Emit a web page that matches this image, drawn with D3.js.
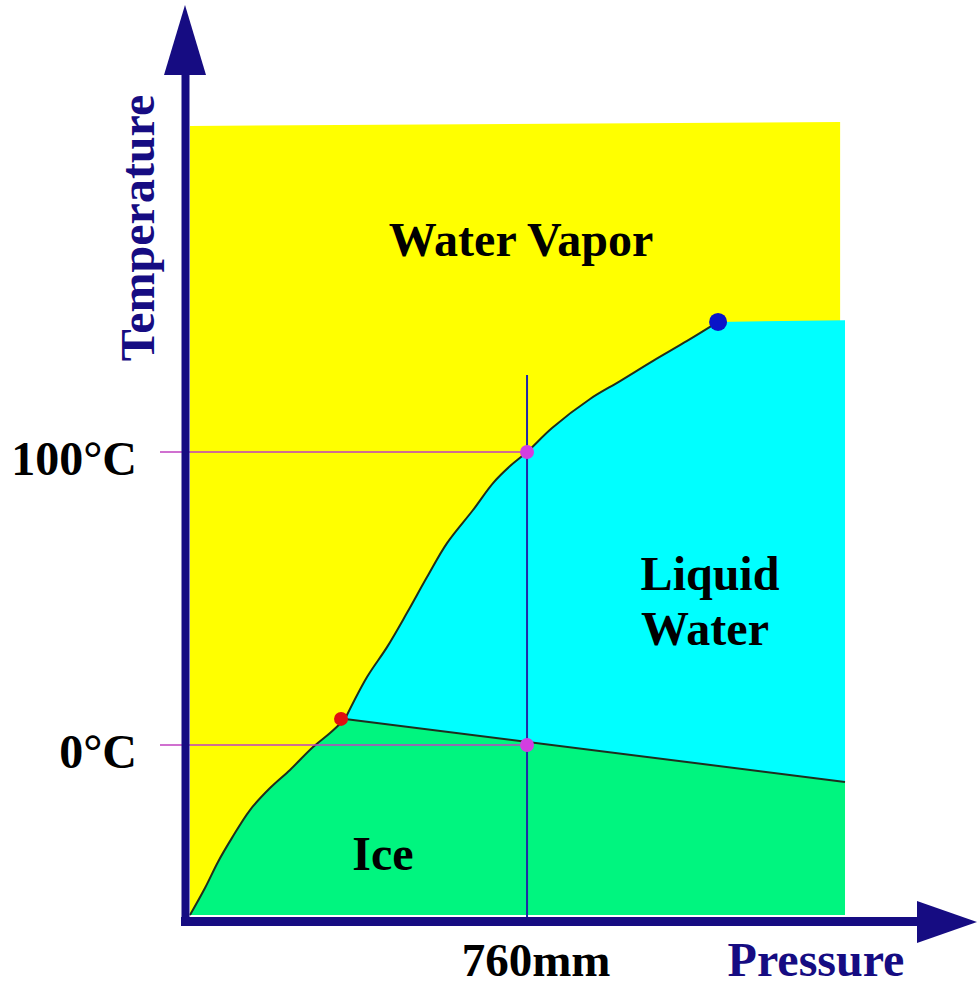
<!DOCTYPE html>
<html>
<head>
<meta charset="utf-8">
<script src="https://cdn.jsdelivr.net/npm/d3@7"></script>
<style>
  html, body { margin: 0; padding: 0; background: #fff; }
  svg { display: block; }
  text { font-family: "Liberation Serif", "Times New Roman", serif; font-weight: bold; }
</style>
</head>
<body>
<div id="chart"></div>
<script>
// pressure in mm (schematic), temperature in °C (schematic)
const sublimationCurve = [
  [0, -58.0], [33.8, -48.8], [63.1, -39.9], [94.7, -31.7], [135.3, -22.2],
  [180.4, -14.7], [225.5, -8.5], [277.4, -0.7], [315.8, 4.1], [349.6, 8.9]
];
const vaporizationCurve = [
  [349.6, 8.9], [399.2, 23.2], [444.3, 33.4], [489.4, 45.1], [534.5, 57.3],
  [579.6, 68.9], [638.2, 80.2], [683.4, 89.4], [721.7, 95.2], [760, 100],
  [816.4, 108.2], [902.1, 118.1], [969.8, 124.2], [1044.2, 131.1],
  [1120.9, 137.9], [1190.8, 144.4]
];
const fusionLine = [[349.6, 8.9], [1477, -12.6]];
const triplePoint = [349.6, 8.9];
const criticalPoint = [1190.8, 144.4];
const boilingPoints = [[760, 100], [760, 0]];
const tempTicks = [{ t: 100, label: '100°C' }, { t: 0, label: '0°C' }];
const pressureTick = { p: 760, label: '760mm' };
const pMax = 1477, tMin = -58, tTop = 211.3, tTopRight = 212.6, tLiquidTop = 145;

const svg = d3.select('#chart').append('svg')
  .attr('width', 977)
  .attr('height', 987);

const x = d3.scaleLinear().domain([0, pMax]).range([190, 845]);
const y = d3.scaleLinear().domain([0, 100]).range([745, 452]);

const navy = '#160c82';
const line = d3.line().x(d => x(d[0])).y(d => y(d[1]));
const curve = d3.line().x(d => x(d[0])).y(d => y(d[1])).curve(d3.curveCatmullRom);
const lineTo = pts => pts.map(d => `L${x(d[0])},${y(d[1])}`).join('');

// phase regions
const vaporRegion = [[0, tMin], [0, tTop], [pMax - 11, tTopRight], [pMax - 11, tMin]];
svg.append('path').attr('d', line(vaporRegion) + 'Z').attr('fill', '#ffff00');

svg.append('path')
  .attr('d', curve(vaporizationCurve) +
    lineTo([[pMax, tLiquidTop], [pMax, fusionLine[1][1]]]) + 'Z')
  .attr('fill', '#00ffff');

svg.append('path')
  .attr('d', curve(sublimationCurve) + lineTo([fusionLine[1], [pMax, tMin]]) + 'Z')
  .attr('fill', '#00f57f');

// phase boundaries
svg.append('path')
  .attr('d', curve(sublimationCurve))
  .attr('fill', 'none').attr('stroke', '#1e2e1e').attr('stroke-width', 2);
svg.append('path')
  .attr('d', curve(vaporizationCurve))
  .attr('fill', 'none').attr('stroke', '#1e2e1e').attr('stroke-width', 2);
svg.append('path')
  .attr('d', line(fusionLine))
  .attr('fill', 'none').attr('stroke', '#1e2e1e').attr('stroke-width', 2);

// guide lines
tempTicks.forEach(d => {
  svg.append('line')
    .attr('x1', 160).attr('x2', x(pressureTick.p))
    .attr('y1', y(d.t)).attr('y2', y(d.t))
    .attr('stroke', '#c040c0')
    .attr('stroke-opacity', 0.75)
    .attr('stroke-width', 2);
  svg.append('text')
    .attr('x', 137)
    .attr('y', y(d.t) + 23)
    .attr('text-anchor', 'end')
    .attr('font-size', '48px')
    .attr('fill', '#000')
    .text(d.label);
});

svg.append('line')
  .attr('x1', x(pressureTick.p)).attr('x2', x(pressureTick.p))
  .attr('y1', 375).attr('y2', 918)
  .attr('stroke', '#2028a8')
  .attr('stroke-width', 2);

svg.append('text')
  .attr('x', x(pressureTick.p) + 9)
  .attr('y', 976)
  .attr('text-anchor', 'middle')
  .attr('font-size', '47px')
  .attr('fill', '#000')
  .text(pressureTick.label);

// points
svg.selectAll('circle.bp')
  .data(boilingPoints)
  .enter()
  .append('circle')
  .attr('class', 'bp')
  .attr('cx', d => x(d[0]))
  .attr('cy', d => y(d[1]))
  .attr('r', 7)
  .attr('fill', '#d23ee0');

svg.append('circle')
  .attr('cx', x(triplePoint[0]) - 4).attr('cy', y(triplePoint[1]))
  .attr('r', 7).attr('fill', '#e01010');

svg.append('circle')
  .attr('cx', x(criticalPoint[0])).attr('cy', y(criticalPoint[1]))
  .attr('r', 9).attr('fill', '#0a14c8');

// axes (arrows)
svg.append('line')
  .attr('x1', 185.5).attr('x2', 185.5)
  .attr('y1', 926).attr('y2', 70)
  .attr('stroke', navy).attr('stroke-width', 8);
svg.append('path')
  .attr('d', 'M164,75 L206,75 L185,5 Z')
  .attr('fill', navy);

svg.append('line')
  .attr('x1', 181).attr('x2', 920)
  .attr('y1', 921.5).attr('y2', 921.5)
  .attr('stroke', navy).attr('stroke-width', 9);
svg.append('path')
  .attr('d', 'M917,901 L917,943 L977,922 Z')
  .attr('fill', navy);

// axis titles
svg.append('text')
  .attr('transform', 'translate(154,228) rotate(-90)')
  .attr('text-anchor', 'middle')
  .attr('font-size', '48px')
  .attr('fill', navy)
  .text('Temperature');

svg.append('text')
  .attr('x', 816).attr('y', 976)
  .attr('text-anchor', 'middle')
  .attr('font-size', '48px')
  .attr('fill', navy)
  .text('Pressure');

// region labels
const labels = [
  { text: 'Water Vapor', x: 521, y: 256 },
  { text: 'Liquid', x: 710, y: 590 },
  { text: 'Water', x: 705, y: 645 },
  { text: 'Ice', x: 383, y: 870 }
];
svg.selectAll('text.region')
  .data(labels)
  .enter()
  .append('text')
  .attr('class', 'region')
  .attr('x', d => d.x)
  .attr('y', d => d.y)
  .attr('text-anchor', 'middle')
  .attr('font-size', '48px')
  .attr('fill', '#000')
  .text(d => d.text);
</script>
</body>
</html>
